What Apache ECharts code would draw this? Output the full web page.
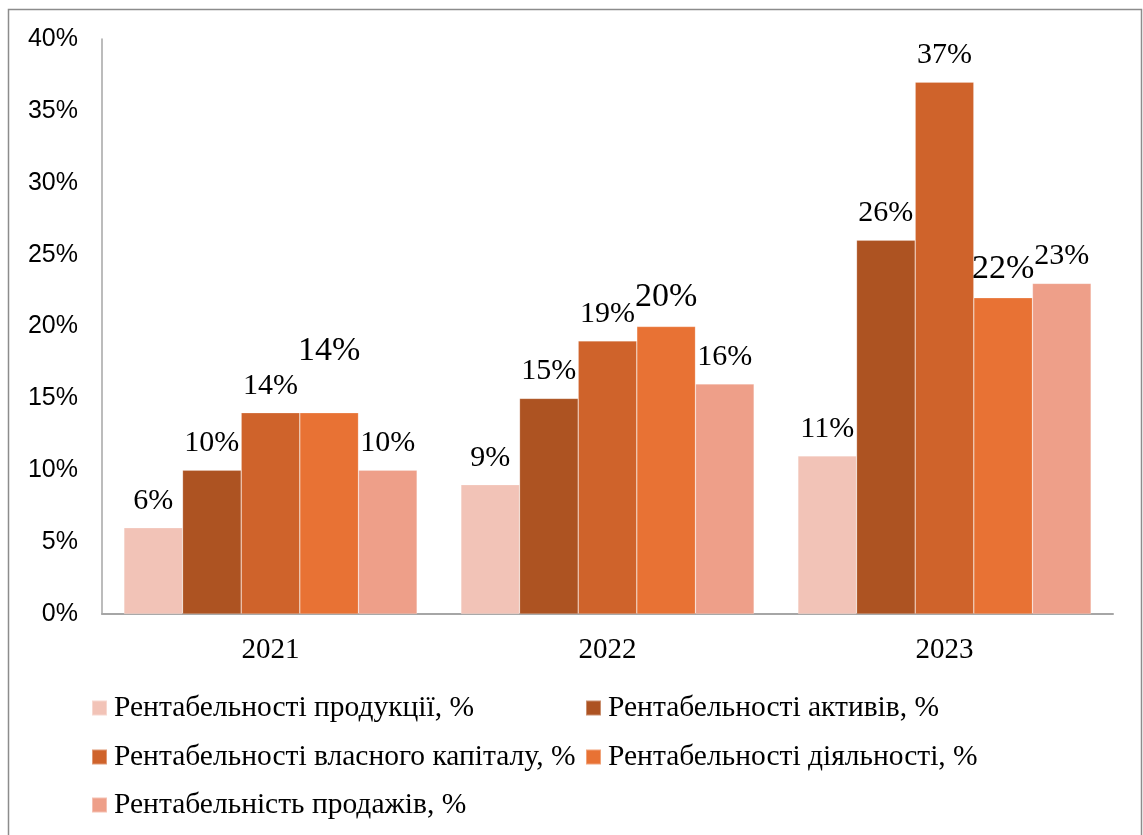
<!DOCTYPE html>
<html>
<head>
<meta charset="utf-8">
<script src="https://cdn.jsdelivr.net/npm/echarts@6/dist/echarts.min.js"></script>
<style>
html,body{margin:0;padding:0;background:#fff;}
#chart{width:1143px;height:835px;}
</style>
</head>
<body>
<div id="chart"></div>
<script>
const categories = ['2021', '2022', '2023'];
const seriesNames = [
  'Рентабельності продукції, %',
  'Рентабельності активів, %',
  'Рентабельності власного капіталу, %',
  'Рентабельності діяльності, %',
  'Рентабельність продажів, %'
];
const productProfitability = [6, 9, 11];
const assetProfitability = [10, 15, 26];
const equityProfitability = [14, 19, 37];
const activityProfitability = [14, 20, 22];
const salesProfitability = [10, 16, 23];
const yTicks = [0, 5, 10, 15, 20, 25, 30, 35, 40];

const allValues = [productProfitability, assetProfitability, equityProfitability, activityProfitability, salesProfitability];
const colors = ['#F2C3B7', '#AD5322', '#CF632B', '#E87234', '#EE9F89'];

// label styling exceptions: [seriesIndex, categoryIndex] -> style
const bigLabels = {
  '3_0': {fontSize: 34, offset: [0, -33]},
  '3_1': {fontSize: 34, offset: [0, 0]},
  '3_2': {fontSize: 34, offset: [0, 0]}
};

const serif = '"Liberation Serif", "Times New Roman", serif';

const series = allValues.map((vals, si) => ({
  name: seriesNames[si],
  type: 'bar',
  barGap: '0%',
  barCategoryGap: '13%',
  itemStyle: {color: colors[si], borderColor: 'rgba(255,255,255,0.35)', borderWidth: 0.6},
  label: {
    show: true,
    position: 'top',
    distance: 12,
    formatter: p => p.value + '%',
    fontFamily: serif,
    fontSize: 30,
    color: '#000'
  },
  data: vals.map((v, ci) => {
    const ex = bigLabels[si + '_' + ci];
    return ex ? {value: v, label: ex} : v;
  })
}));

const legendPos = [
  {left: 91, top: 693},
  {left: 585, top: 693},
  {left: 91, top: 742},
  {left: 585, top: 742},
  {left: 91, top: 790}
];
const legends = seriesNames.map((n, i) => ({
  data: [n],
  left: legendPos[i].left,
  top: legendPos[i].top,
  orient: 'horizontal',
  icon: 'rect',
  itemWidth: 15,
  itemHeight: 15,
  itemGap: 0,
  padding: 0,
  selectedMode: false,
  textStyle: {fontFamily: serif, fontSize: 29.5, color: '#000', padding: [0, 0, 0, 2]}
}));

const chart = echarts.init(document.getElementById('chart'), null, {renderer: 'canvas'});
chart.setOption({
  animation: false,
  backgroundColor: '#fff',
  grid: {left: 102, right: 30, top: 39, bottom: 221, containLabel: false},
  legend: legends,
  xAxis: {
    type: 'category',
    data: categories,
    axisLine: {lineStyle: {color: '#a6a6a6', width: 2}},
    axisTick: {show: false},
    axisLabel: {fontFamily: serif, fontSize: 29, color: '#000', margin: 22}
  },
  yAxis: {
    type: 'value',
    min: 0,
    max: 40,
    interval: 5,
    axisLine: {show: true, lineStyle: {color: '#a6a6a6', width: 1.5}},
    axisTick: {show: false},
    splitLine: {show: false},
    axisLabel: {
      fontFamily: '"Liberation Sans", Arial, sans-serif',
      fontSize: 25,
      color: '#000',
      margin: 24,
      padding: [5, 0, 0, 0],
      formatter: v => yTicks.includes(v) ? v + '%' : ''
    }
  },
  graphic: [{
    type: 'rect',
    shape: {x: 8.5, y: 9.5, width: 1133, height: 840},
    style: {fill: 'none', stroke: '#8c8c8c', lineWidth: 1.5},
    silent: true
  }],
  series: series
});
</script>
</body>
</html>
